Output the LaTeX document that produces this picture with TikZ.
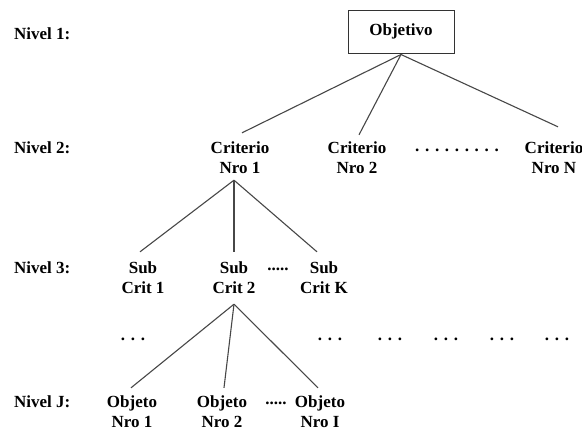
\documentclass[tikz,border=0pt]{standalone}
\usepackage{fontspec}
\setmainfont{Liberation Serif}
\begin{document}
\begin{tikzpicture}[x=1pt,y=-1pt,
  lbl/.style={font=\fontsize{17}{20}\selectfont\bfseries, text=black},
  levellbl/.style={lbl, anchor=west, inner sep=0pt},
  item/.style={lbl, align=center, inner xsep=1pt, inner ysep=6pt},
  goal/.style={lbl, draw=black!80, line width=1pt, minimum width=106pt, minimum height=43pt, inner sep=0pt},
  dotrow/.style={lbl, inner sep=0pt},
  link/.style={draw=black!72, line width=1.1pt}]
\useasboundingbox (0,0) rectangle (582,432);
\fill[white] (0,0) rectangle (582,432);

% level captions
\node[levellbl] (n1) at (14,34) {Nivel 1:};
\node[levellbl] (n2) at (14,148) {Nivel 2:};
\node[levellbl] (n3) at (14,268) {Nivel 3:};
\node[levellbl] (nJ) at (14,402) {Nivel J:};

% goal
\node[goal] (goal) at (401,31.5) {Objetivo};

% criteria
\node[item] (c1) at (240,158) {Criterio\\Nro 1};
\node[item] (c2) at (357,158) {Criterio\\Nro 2};
\node[item] (cN) at (554,158) {Criterio\\Nro N};
\node[dotrow] (cdots) at (457,150) {. . . . . . . . .};

% sub-criteria
\node[item] (s1) at (143,278) {Sub\\Crit 1};
\node[item] (s2) at (234,278) {Sub\\Crit 2};
\node[item] (sK) at (324,278) {Sub\\Crit K};
\node[dotrow] (sdots) at (278,269) {.....};

% intermediate levels
\foreach \x [count=\i] in {133,330,390,446,502,557}
  \node[dotrow] (e\i) at (\x,339) {. . .};

% objects
\node[item] (o1) at (132,412) {Objeto\\Nro 1};
\node[item] (o2) at (222,412) {Objeto\\Nro 2};
\node[item] (oI) at (320,412) {Objeto\\Nro I};
\node[dotrow] (odots) at (276,403) {.....};

% connectors
\draw[link] ([shift={(0,1)}]goal.south) -- ([shift={(2,-3)}]c1.north);
\draw[link] ([shift={(0,1)}]goal.south) -- ([shift={(2,-1)}]c2.north);
\draw[link] ([shift={(0,1)}]goal.south) -- ([shift={(4,-9)}]cN.north);
\draw[link] ([shift={(-6,0)}]c1.south) -- ([shift={(-3,-4)}]s1.north);
\draw[link] ([shift={(-6,0)}]c1.south) -- ([shift={(0,-4)}]s2.north);
\draw[link] ([shift={(-6,0)}]c1.south) -- ([shift={(-7,-4)}]sK.north);
\draw[link] ([shift={(0,4)}]s2.south) -- ([shift={(-1,-2)}]o1.north);
\draw[link] ([shift={(0,4)}]s2.south) -- ([shift={(2,-2)}]o2.north);
\draw[link] ([shift={(0,4)}]s2.south) -- ([shift={(-2,-2)}]oI.north);
\end{tikzpicture}
\end{document}
